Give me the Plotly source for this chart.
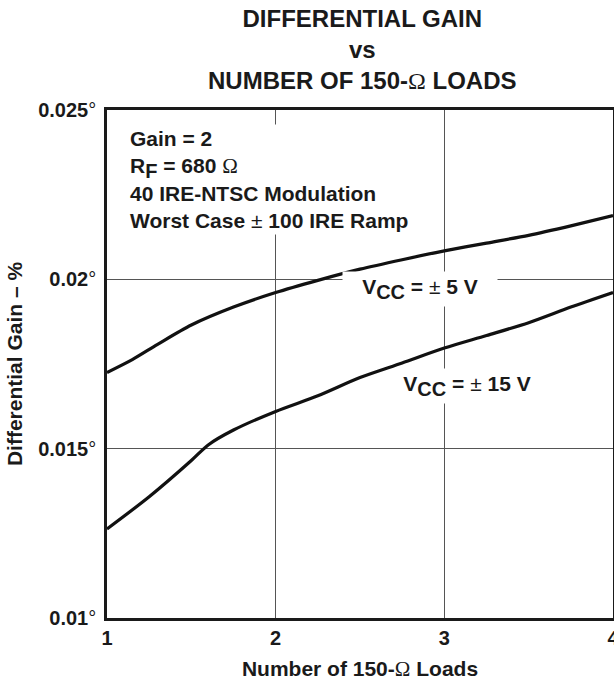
import plotly.graph_objects as go

# Differential gain vs number of 150-ohm loads
loads_5v = [1.0, 1.15, 1.3, 1.5, 1.75, 2.0, 2.25, 2.5, 2.75, 3.0, 3.25, 3.5, 3.75, 4.0]
gain_5v = [0.01725, 0.01763, 0.01808, 0.01865, 0.01918, 0.01961, 0.01997, 0.02030,
           0.02058, 0.02084, 0.02107, 0.02130, 0.02158, 0.02188]

loads_15v = [1.0, 1.25, 1.5, 1.6, 1.75, 2.0, 2.25, 2.5, 2.75, 3.0, 3.25, 3.5, 3.75, 4.0]
gain_15v = [0.01263, 0.01358, 0.01465, 0.01511, 0.01555, 0.01610, 0.01656, 0.01710,
            0.01753, 0.01797, 0.01834, 0.01872, 0.01918, 0.01961]

x_ticks = [1, 2, 3, 4]
y_ticks = [0.01, 0.015, 0.02, 0.025]
y_tick_text = ["0.01", "0.015", "0.02", "0.025"]

FONT = "Liberation Sans, Arial, Helvetica, sans-serif"
SIZE = 21
THIN = "<span style='font-weight:normal'>{}</span>"
OMEGA = "<span style='font-weight:normal;font-family:Liberation Serif, serif'>Ω</span>"


def sub(s):
    # subscript kept close to full size
    return "<sub><span style='font-size:%dpx'>%s</span></sub>" % (SIZE - 1, s)


fig = go.Figure()
for xs, ys in [(loads_5v, gain_5v), (loads_15v, gain_15v)]:
    fig.add_trace(go.Scatter(
        x=xs, y=ys, mode="lines",
        line=dict(color="#111111", width=3.2, shape="spline", smoothing=0.8),
        showlegend=False, hoverinfo="skip",
    ))

fig.update_layout(
    width=614, height=681,
    margin=dict(l=107, r=1, t=110, b=63, autoexpand=False),
    paper_bgcolor="white", plot_bgcolor="white",
    font=dict(family=FONT, size=SIZE, color="#1a1a1a", weight="bold"),
    xaxis=dict(
        range=[1, 4], tickvals=x_ticks, ticktext=[str(v) for v in x_ticks],
        showgrid=True, gridcolor="#555555", gridwidth=1, zeroline=False,
        showline=True, mirror=True, linecolor="#1a1a1a", linewidth=2.5,
        ticks="", automargin=False, ticklabeloverflow="allow",
        tickfont=dict(family=FONT, size=20, weight="bold"),
        title=dict(text="Number of 150-" + OMEGA + " Loads", standoff=14,
                   font=dict(family=FONT, size=SIZE, weight="bold")),
    ),
    yaxis=dict(
        range=[0.01, 0.025], tickvals=y_ticks,
        ticktext=[t + THIN.format("°") for t in y_tick_text],
        showgrid=True, gridcolor="#555555", gridwidth=1, zeroline=False,
        showline=True, mirror=True, linecolor="#1a1a1a", linewidth=2.5,
        ticks="", automargin=False, ticklabelstandoff=4, ticklabeloverflow="allow",
        tickfont=dict(family=FONT, size=20, weight="bold"),
        title=dict(text="Differential Gain – %", standoff=10,
                   font=dict(family=FONT, size=SIZE, weight="bold")),
    ),
)

# Chart title
fig.add_annotation(
    text="DIFFERENTIAL GAIN<br>vs<br>NUMBER OF 150-" + OMEGA + " LOADS",
    xref="paper", yref="paper", x=0.504, y=1 + (110 - 49.5) / 508,
    xanchor="center", yanchor="middle", align="center", showarrow=False,
    font=dict(family=FONT, size=24, weight="bold"),
)

# Test conditions block
fig.add_annotation(
    text=("Gain = 2<br>R" + sub("F") + " = 680 " + OMEGA +
          "<br>40 IRE-NTSC Modulation<br>Worst Case " + THIN.format("±") +
          " 100 IRE Ramp"),
    xref="paper", yref="paper", x=0.04, y=0.972,
    xanchor="left", yanchor="top", align="left", showarrow=False,
    bgcolor="white", borderpad=2,
    font=dict(family=FONT, size=SIZE, weight="bold"),
)

# Curve labels
fig.add_annotation(
    text="V" + sub("CC") + " = " + THIN.format("±") + " 5 V",
    x=2.855, y=0.01970, xref="x", yref="y", showarrow=False,
    width=150, height=30, bgcolor="white", borderpad=2,
    font=dict(family=FONT, size=SIZE, weight="bold"),
)
fig.add_annotation(
    text="V" + sub("CC") + " = " + THIN.format("±") + " 15 V",
    x=3.134, y=0.01686, xref="x", yref="y", showarrow=False,
    width=140, height=30, bgcolor="white", borderpad=2,
    font=dict(family=FONT, size=SIZE, weight="bold"),
)

fig.write_html("out.html")
